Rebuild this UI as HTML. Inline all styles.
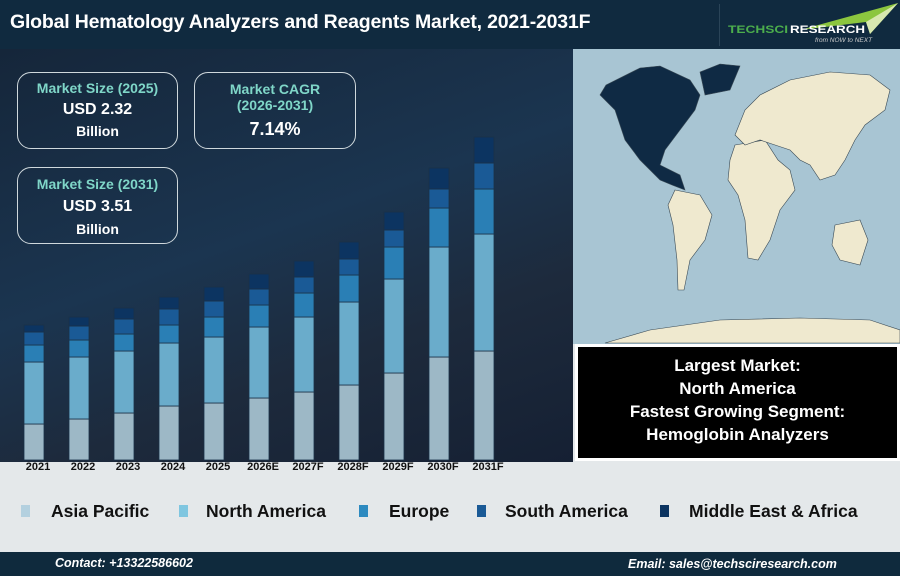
<!DOCTYPE html>
<html><head><meta charset="utf-8"><style>
*{margin:0;padding:0;box-sizing:border-box}
body{width:900px;height:576px;overflow:hidden;font-family:"Liberation Sans",sans-serif;position:relative;background:#e4e8ea}
.hdr{position:absolute;left:0;top:0;width:900px;height:49px;background:#102a3f}
.title{position:absolute;left:10px;top:11px;color:#fff;font-size:19.5px;font-weight:bold;letter-spacing:-0.2px;white-space:nowrap}
.main{position:absolute;left:0;top:49px;width:573px;height:413px;background:linear-gradient(160deg,#15263a 0%,#1b3550 45%,#1d2a3c 70%,#152033 100%)}
.box{position:absolute;border:1.5px solid #cfd8dc;border-radius:14px;text-align:center;color:#fff;font-weight:bold}
.box .t{color:#7fd6c8;font-size:14px}
.box .v{font-size:16px}
.yl{position:absolute;top:461px;font-size:11px;font-weight:bold;color:#111;width:44px;text-align:center}
.leg{position:absolute;top:501px;font-size:17.5px;font-weight:bold;color:#111;white-space:nowrap}
.sw{position:absolute;top:505px;width:9px;height:12px}
.ftr{position:absolute;left:0;top:552px;width:900px;height:24px;background:#0f2a3d;color:#fff;font-size:12.5px;font-style:italic;font-weight:bold}
.info{position:absolute;left:575px;top:344px;width:325px;height:117px;background:#000;border:3px solid #fff;color:#fff;font-weight:bold;font-size:17px;text-align:center;line-height:23px;padding-top:7px}
</style></head><body>
<div class="hdr"><div class="title">Global Hematology Analyzers and Reagents Market, 2021-2031F</div>
<div style="position:absolute;left:719px;top:4px;width:1px;height:42px;background:#2a4458"></div>
<svg style="position:absolute;left:720px;top:0" width="180" height="49"><polygon points="80,30 178,3 150,34 146,22" fill="#8cc63f"/><polygon points="146,22 178,3 150,34" fill="#d8e8b0"/>
<text x="8" y="33" font-family="Liberation Sans" font-size="11" font-weight="bold" fill="#4cae4c" textLength="60" lengthAdjust="spacingAndGlyphs">TECHSCI</text><text x="70" y="33" font-family="Liberation Sans" font-size="11" font-weight="bold" fill="#fff" textLength="75" lengthAdjust="spacingAndGlyphs">RESEARCH</text>
<text x="95" y="42" font-family="Liberation Sans" font-size="6.5" font-style="italic" fill="#ccc">from NOW to NEXT</text></svg></div>
<div class="main"></div>
<div class="box" style="left:17px;top:72px;width:161px;height:77px"><div class="t" style="margin-top:7px">Market Size (2025)</div><div class="v" style="margin-top:5px">USD 2.32</div><div class="v" style="font-size:14px;margin-top:4px">Billion</div></div>
<div class="box" style="left:194px;top:72px;width:162px;height:77px"><div class="t" style="margin-top:8px;line-height:16px">Market CAGR<br>(2026-2031)</div><div class="v" style="font-size:18px;margin-top:6px">7.14%</div></div>
<div class="box" style="left:17px;top:167px;width:161px;height:77px"><div class="t" style="margin-top:8px">Market Size (2031)</div><div class="v" style="margin-top:6px">USD 3.51</div><div class="v" style="font-size:14px;margin-top:5px">Billion</div></div>
<svg style="position:absolute;left:0;top:0" width="573" height="462">
<g stroke="#1b3148" stroke-width="0.8">
<rect x="24" y="424" width="20" height="36" fill="#9db8c6"/><rect x="24" y="362" width="20" height="62" fill="#6aaccb"/><rect x="24" y="345" width="20" height="17" fill="#2a7fb5"/><rect x="24" y="332" width="20" height="13" fill="#1a5a96"/><rect x="24" y="325" width="20" height="7" fill="#0c3461"/>
<rect x="69" y="419" width="20" height="41" fill="#9db8c6"/><rect x="69" y="357" width="20" height="62" fill="#6aaccb"/><rect x="69" y="340" width="20" height="17" fill="#2a7fb5"/><rect x="69" y="326" width="20" height="14" fill="#1a5a96"/><rect x="69" y="317" width="20" height="9" fill="#0c3461"/>
<rect x="114" y="413" width="20" height="47" fill="#9db8c6"/><rect x="114" y="351" width="20" height="62" fill="#6aaccb"/><rect x="114" y="334" width="20" height="17" fill="#2a7fb5"/><rect x="114" y="319" width="20" height="15" fill="#1a5a96"/><rect x="114" y="308" width="20" height="11" fill="#0c3461"/>
<rect x="159" y="406" width="20" height="54" fill="#9db8c6"/><rect x="159" y="343" width="20" height="63" fill="#6aaccb"/><rect x="159" y="325" width="20" height="18" fill="#2a7fb5"/><rect x="159" y="309" width="20" height="16" fill="#1a5a96"/><rect x="159" y="297" width="20" height="12" fill="#0c3461"/>
<rect x="204" y="403" width="20" height="57" fill="#9db8c6"/><rect x="204" y="337" width="20" height="66" fill="#6aaccb"/><rect x="204" y="317" width="20" height="20" fill="#2a7fb5"/><rect x="204" y="301" width="20" height="16" fill="#1a5a96"/><rect x="204" y="287" width="20" height="14" fill="#0c3461"/>
<rect x="249" y="398" width="20" height="62" fill="#9db8c6"/><rect x="249" y="327" width="20" height="71" fill="#6aaccb"/><rect x="249" y="305" width="20" height="22" fill="#2a7fb5"/><rect x="249" y="289" width="20" height="16" fill="#1a5a96"/><rect x="249" y="274" width="20" height="15" fill="#0c3461"/>
<rect x="294" y="392" width="20" height="68" fill="#9db8c6"/><rect x="294" y="317" width="20" height="75" fill="#6aaccb"/><rect x="294" y="293" width="20" height="24" fill="#2a7fb5"/><rect x="294" y="277" width="20" height="16" fill="#1a5a96"/><rect x="294" y="261" width="20" height="16" fill="#0c3461"/>
<rect x="339" y="385" width="20" height="75" fill="#9db8c6"/><rect x="339" y="302" width="20" height="83" fill="#6aaccb"/><rect x="339" y="275" width="20" height="27" fill="#2a7fb5"/><rect x="339" y="259" width="20" height="16" fill="#1a5a96"/><rect x="339" y="242" width="20" height="17" fill="#0c3461"/>
<rect x="384" y="373" width="20" height="87" fill="#9db8c6"/><rect x="384" y="279" width="20" height="94" fill="#6aaccb"/><rect x="384" y="247" width="20" height="32" fill="#2a7fb5"/><rect x="384" y="230" width="20" height="17" fill="#1a5a96"/><rect x="384" y="212" width="20" height="18" fill="#0c3461"/>
<rect x="429" y="357" width="20" height="103" fill="#9db8c6"/><rect x="429" y="247" width="20" height="110" fill="#6aaccb"/><rect x="429" y="208" width="20" height="39" fill="#2a7fb5"/><rect x="429" y="189" width="20" height="19" fill="#1a5a96"/><rect x="429" y="168" width="20" height="21" fill="#0c3461"/>
<rect x="474" y="351" width="20" height="109" fill="#9db8c6"/><rect x="474" y="234" width="20" height="117" fill="#6aaccb"/><rect x="474" y="189" width="20" height="45" fill="#2a7fb5"/><rect x="474" y="163" width="20" height="26" fill="#1a5a96"/><rect x="474" y="137" width="20" height="26" fill="#0c3461"/>
</g></svg>
<div class="yl" style="left:16px">2021</div><div class="yl" style="left:61px">2022</div><div class="yl" style="left:106px">2023</div><div class="yl" style="left:151px">2024</div><div class="yl" style="left:196px">2025</div><div class="yl" style="left:241px">2026E</div><div class="yl" style="left:286px">2027F</div><div class="yl" style="left:331px">2028F</div><div class="yl" style="left:376px">2029F</div><div class="yl" style="left:421px">2030F</div><div class="yl" style="left:466px">2031F</div>
<svg style="position:absolute;left:573px;top:49px" width="327" height="295"><rect width="327" height="295" fill="#a8c5d3"/>
<g transform="translate(-573,-49)" stroke="#3a4a55" stroke-width="0.6">
<polygon fill="#0f2a44" points="606,85 640,68 660,66 690,80 700,95 695,110 680,130 665,150 660,165 680,175 685,190 672,185 660,180 640,160 625,140 615,110 600,95"/>
<polygon fill="#0f2a44" points="700,72 720,64 740,66 730,90 705,95"/>
<polygon fill="#efe9cf" points="675,190 700,195 712,215 705,240 690,260 684,290 678,290 677,260 673,225 668,205"/>
<polygon fill="#efe9cf" points="735,145 765,140 778,160 790,170 795,190 780,210 770,240 758,260 748,258 745,220 738,195 728,180 730,160"/>
<polygon fill="#efe9cf" points="735,135 745,110 760,95 790,80 830,72 870,75 890,90 885,110 865,125 855,140 845,160 835,175 820,180 810,165 800,160 790,150 775,145 760,140 745,145"/>
<polygon fill="#efe9cf" points="835,225 860,220 868,240 860,265 840,260 832,245"/>
<polygon fill="#efe9cf" points="605,343 650,330 720,320 800,318 870,320 900,330 900,343"/>
</g></svg>
<div class="info">Largest Market:<br>North America<br>Fastest Growing Segment:<br>Hemoglobin Analyzers</div>
<div class="sw" style="left:21px;background:#b3d0df"></div><div class="leg" style="left:51px">Asia Pacific</div>
<div class="sw" style="left:179px;background:#7fc6e0"></div><div class="leg" style="left:206px">North America</div>
<div class="sw" style="left:359px;background:#2d8ac0"></div><div class="leg" style="left:389px">Europe</div>
<div class="sw" style="left:477px;background:#1a5a96"></div><div class="leg" style="left:505px">South America</div>
<div class="sw" style="left:660px;background:#0c3461"></div><div class="leg" style="left:689px">Middle East &amp; Africa</div>
<div class="ftr"><span style="position:absolute;left:55px;top:4px">Contact: +13322586602</span><span style="position:absolute;left:628px;top:5px">Email: sales@techsciresearch.com</span></div>
</body></html>
